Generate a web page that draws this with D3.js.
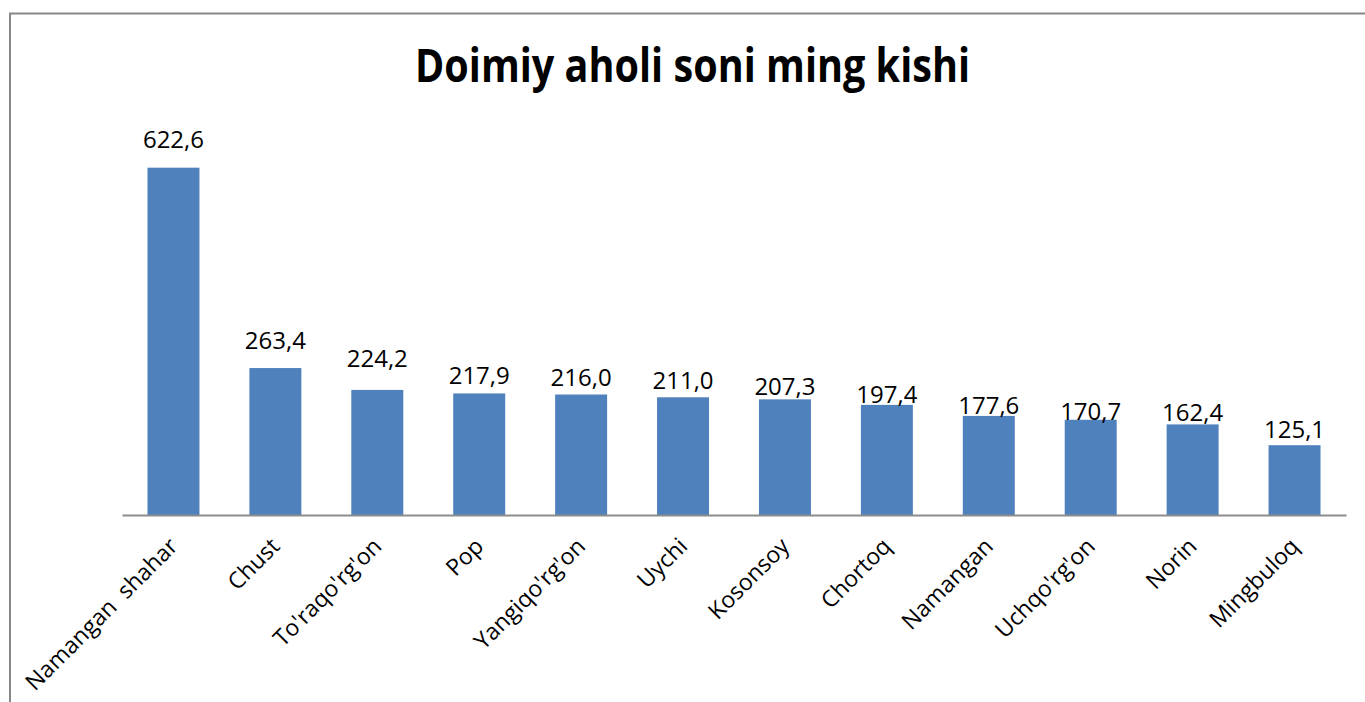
<!DOCTYPE html>
<html>
<head>
<meta charset="utf-8">
<script src="https://cdn.jsdelivr.net/npm/d3@7"></script>
<style>
  body { margin: 0; background: #fff; }
  svg { display: block; }
</style>
</head>
<body>
<div id="chart"></div>
<script>
// chart data
const districts = ["Namangan  shahar", "Chust", "To'raqo'rg'on", "Pop", "Yangiqo'rg'on", "Uychi",
    "Kosonsoy", "Chortoq", "Namangan", "Uchqo'rg'on", "Norin", "Mingbuloq"]
const population = [622.6, 263.4, 224.2, 217.9, 216.0, 211.0, 207.3, 197.4, 177.6, 170.7, 162.4, 125.1]
const yDomain = [0, 700]
const chartTitle = "Doimiy aholi soni ming kishi"

// excel placed its data labels a bit unevenly, nudge them the same way
const labelLift = [20, 19, 23, 9, 9, 8, 4, 2, 2, 0, 3, 7]

const W = 1365, H = 702
const margin = {left: 122, right: 19, axisY: 515, top: 124.5}

const svg = d3.select("#chart")
    .append("svg")
    .attr("width", W)
    .attr("height", H)

// chart area border (right and bottom edges fall outside the window)
svg.append("rect")
    .attr("x", 10)
    .attr("y", 13.5)
    .attr("width", 1366)
    .attr("height", 720)
    .attr("fill", "none")
    .attr("stroke", "#878787")
    .attr("stroke-width", 2)

svg.append("text")
    .attr("x", 692.5)
    .attr("y", 82)
    .attr("text-anchor", "middle")
    .attr("textLength", 555)
    .attr("lengthAdjust", "spacingAndGlyphs")
    .style("font-family", "'Open Sans', 'Noto Sans', sans-serif")
    .style("font-weight", "bold")
    .style("font-size", "47px")
    .style("fill", "#000")
    .text(chartTitle)

var x = d3.scaleBand()
    .domain(districts)
    .range([margin.left, W - margin.right])
    .paddingInner(0.49)
    .paddingOuter(0.25)

var y = d3.scaleLinear()
    .domain(yDomain)
    .range([margin.axisY, margin.top])

// bars
svg.selectAll("rect.bar")
    .data(districts)
    .enter()
    .append("rect")
    .attr("class", "bar")
    .attr("x", function(d) { return x(d) })
    .attr("width", x.bandwidth())
    .attr("y", function(d, i) { return y(population[i]) })
    .attr("height", function(d, i) { return y(0) - y(population[i]) })
    .attr("fill", "#4F81BD")

// value labels
svg.selectAll("text.val")
    .data(districts)
    .enter()
    .append("text")
    .attr("class", "val")
    .attr("x", function(d) { return x(d) + x.bandwidth() / 2 })
    .attr("y", function(d, i) { return y(population[i]) - labelLift[i] })
    .attr("text-anchor", "middle")
    .style("font-family", "'Open Sans', sans-serif")
    .style("font-size", "24px")
    .style("fill", "#000")
    .text(function(d, i) { return d3.format(".1f")(population[i]).replace(".", ",") })

// category axis
var xAxis = svg.append("g")
    .attr("transform", "translate(0," + margin.axisY + ")")
    .call(d3.axisBottom(x).tickSize(0).tickSizeOuter(0))

xAxis.select(".domain")
    .attr("stroke", "#8c8c8c")
    .attr("stroke-width", 2)

xAxis.selectAll(".tick text")
    .style("font-family", "'Open Sans', sans-serif")
    .style("font-size", "23px")
    .style("fill", "#000")
    .style("white-space", "pre")
    .attr("text-anchor", "end")
    .attr("x", 0)
    .attr("y", 0)
    .attr("dy", "0.35em")
    .attr("transform", "translate(0,27) rotate(-45)")
</script>
</body>
</html>
